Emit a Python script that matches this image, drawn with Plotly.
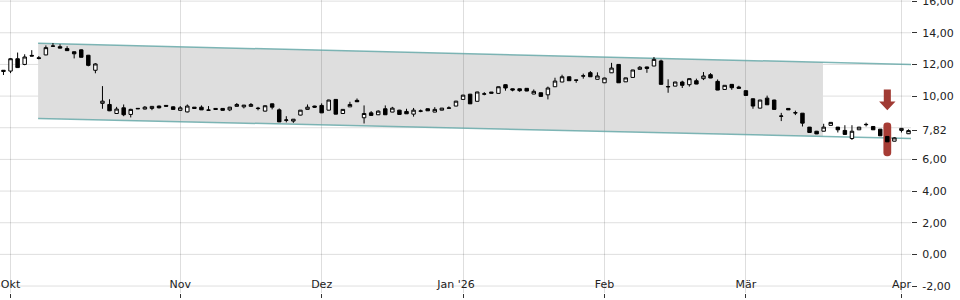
import plotly.graph_objects as go

# ---------------- data ----------------
opens = [11.63, 11.58, 12.36, 12.00, 12.57, 12.42, 12.60, 13.15, 13.12, 13.00,
         12.80, 12.92, 12.58, 11.63, 9.54, 9.47, 8.90, 9.26, 8.84, 9.19,
         9.18, 9.22, 9.37, 9.41, 9.32, 9.10, 9.00, 9.30, 9.30, 9.12,
         9.22, 9.22, 9.13, 9.35, 9.32, 9.35, 9.21, 9.05, 9.51, 9.13,
         8.47, 8.42, 8.80, 9.16, 9.37, 9.41, 9.11, 9.79, 8.90, 9.32,
         9.73, 8.63, 8.94, 8.82, 9.20, 8.99, 9.11, 9.03, 8.86, 9.04,
         9.20, 8.99, 9.11, 9.23, 9.37, 9.79, 10.12, 9.67, 10.12, 10.17,
         10.17, 10.72, 10.46, 10.46, 10.49, 10.13, 10.21, 10.08, 10.59, 10.89,
         11.22, 11.02, 11.26, 11.48, 11.06, 10.84, 11.47, 12.00, 10.90, 11.18,
         11.69, 11.84, 11.90, 12.22, 10.58, 10.63, 10.89, 10.72, 10.97, 11.10,
         11.35, 10.93, 10.42, 10.74, 10.57, 10.34, 9.83, 9.24, 9.87, 9.75,
         8.72, 9.22, 8.93, 8.92, 8.04, 7.78, 7.78, 8.15, 8.04, 7.83,
         7.32, 7.87, 8.19, 8.08, 7.91, 7.45, 7.15, 7.83, 7.62]
highs = [11.64, 12.40, 12.75, 12.64, 12.90, 12.53, 13.20, 13.35, 13.27, 13.15,
         12.82, 12.95, 12.60, 12.08, 10.63, 9.80, 9.32, 9.47, 9.20, 9.21,
         9.37, 9.37, 9.40, 9.43, 9.35, 9.37, 9.47, 9.31, 9.41, 9.37,
         9.24, 9.24, 9.32, 9.56, 9.44, 9.56, 9.32, 9.41, 9.53, 9.22,
         8.73, 8.55, 9.12, 9.47, 9.39, 9.54, 9.77, 9.80, 9.17, 9.64,
         9.85, 9.41, 9.05, 9.10, 9.41, 9.32, 9.13, 9.20, 9.25, 9.15,
         9.22, 9.30, 9.25, 9.35, 9.70, 10.08, 10.14, 10.27, 10.25, 10.26,
         10.60, 10.74, 10.48, 10.48, 10.51, 10.42, 10.22, 10.60, 11.16, 11.35,
         11.24, 11.03, 11.42, 11.58, 11.50, 11.16, 12.10, 12.02, 11.16, 11.66,
         11.90, 11.86, 12.47, 12.30, 11.06, 10.90, 10.97, 11.11, 11.10, 11.52,
         11.45, 11.05, 10.69, 10.75, 10.65, 10.36, 9.85, 9.76, 10.03, 9.77,
         8.94, 9.23, 9.08, 8.93, 8.05, 7.80, 8.25, 8.35, 8.05, 8.16,
         8.16, 8.05, 8.32, 8.09, 7.92, 7.46, 7.40, 7.97, 7.90]
lows = [11.33, 11.45, 11.78, 11.95, 12.52, 12.32, 12.58, 13.10, 13.02, 12.85,
        12.38, 12.44, 11.88, 11.44, 9.20, 9.05, 8.88, 8.73, 8.65, 9.18,
        9.16, 9.11, 9.22, 9.33, 9.14, 9.08, 8.97, 9.21, 9.12, 9.10,
        9.15, 9.09, 9.05, 9.34, 9.22, 9.34, 9.10, 9.03, 9.16, 8.36,
        8.34, 8.31, 8.78, 9.15, 9.25, 8.93, 9.10, 8.85, 8.89, 9.31,
        9.63, 8.27, 8.77, 8.80, 8.81, 8.98, 8.83, 8.87, 8.70, 8.98,
        9.06, 8.98, 9.10, 9.22, 9.36, 9.78, 9.50, 9.66, 10.05, 10.16,
        10.16, 10.34, 10.30, 10.27, 10.31, 10.12, 9.97, 9.79, 10.58, 10.88,
        10.96, 10.84, 11.10, 11.21, 11.05, 10.83, 11.46, 10.83, 10.89, 11.17,
        11.68, 11.47, 11.89, 10.73, 10.21, 10.62, 10.51, 10.60, 10.75, 11.01,
        11.13, 10.37, 10.41, 10.40, 10.48, 10.03, 9.20, 9.22, 9.44, 9.15,
        8.42, 9.12, 8.80, 8.08, 7.69, 7.60, 7.77, 8.14, 7.70, 7.57,
        7.23, 7.86, 8.08, 7.86, 7.48, 7.10, 7.14, 7.70, 7.64]
closes = [11.56, 12.36, 11.80, 12.47, 12.53, 12.38, 13.06, 13.16, 13.03, 12.87,
          12.67, 12.45, 11.94, 12.03, 9.68, 9.07, 9.18, 8.82, 9.16, 9.22,
          9.30, 9.35, 9.26, 9.36, 9.16, 9.26, 9.37, 9.22, 9.13, 9.11,
          9.16, 9.10, 9.30, 9.47, 9.43, 9.47, 9.23, 9.39, 9.30, 8.37,
          8.49, 8.54, 9.11, 9.30, 9.30, 8.94, 9.75, 8.86, 9.16, 9.47,
          9.64, 8.90, 8.78, 9.05, 8.82, 9.24, 8.84, 8.88, 9.11, 9.06,
          9.07, 9.16, 9.24, 9.25, 9.68, 10.06, 9.51, 10.26, 10.14, 10.25,
          10.59, 10.51, 10.38, 10.34, 10.32, 10.30, 9.98, 10.51, 10.95, 11.22,
          10.97, 11.00, 11.28, 11.22, 11.27, 11.14, 11.77, 10.84, 11.15, 11.65,
          11.82, 11.75, 12.32, 10.74, 10.60, 10.89, 10.68, 11.10, 10.76, 11.27,
          11.14, 10.38, 10.68, 10.53, 10.49, 10.04, 9.37, 9.75, 9.45, 9.16,
          8.74, 9.13, 8.95, 8.29, 7.70, 7.61, 8.04, 8.34, 7.87, 7.58,
          7.78, 8.04, 8.21, 7.87, 7.49, 7.11, 7.36, 7.96, 7.82]

month_labels = ["Okt", "Nov", "Dez", "Jan '26\u00a0\u00a0\u00a0\u00a0", "Feb", "Mär", "Apr"]
month_start_idx = [1, 25, 45, 65, 85, 105, 127]

grid_values = [-2, 0, 2, 4, 6, 8, 10, 12, 14, 16]
ytick_values = [-2, 0, 2, 4, 6, 7.82, 10, 12, 14, 16]
last_price = 7.82

# trend channel (start / end)
channel_x = [4.9, 128.35]
channel_top = [13.33, 12.00]
channel_bottom = [8.59, 7.32]
channel_fill_end = 115.9

# highlight
highlight_idx = 125
highlight_range = [6.2, 8.33]
arrow_top, arrow_neck, arrow_tip = 10.42, 9.66, 9.10

# ---------------- figure ----------------
n = len(closes)
xs = list(range(n))

fig = go.Figure()

fig.add_trace(go.Candlestick(
    x=xs, open=opens, high=highs, low=lows, close=closes,
    increasing=dict(line=dict(color="black", width=1), fillcolor="white"),
    decreasing=dict(line=dict(color="black", width=1), fillcolor="black"),
    whiskerwidth=0, showlegend=False, hoverinfo="skip",
))


def interp(xv, ys):
    t = (xv - channel_x[0]) / (channel_x[1] - channel_x[0])
    return ys[0] + (ys[1] - ys[0]) * t


# channel fill
x0, x1 = channel_x[0], channel_fill_end
path = (f"M {x0},{interp(x0, channel_top)} L {x1},{interp(x1, channel_top)} "
        f"L {x1},{interp(x1, channel_bottom)} L {x0},{interp(x0, channel_bottom)} Z")
fig.add_shape(type="path", path=path, xref="x", yref="y", layer="below",
              fillcolor="#dedede", line=dict(width=0))

# horizontal grid lines
for g in grid_values:
    fig.add_shape(type="line", xref="paper", x0=0, x1=1, yref="y", y0=g, y1=g,
                  layer="below", line=dict(color="rgba(0,0,0,0.13)", width=1))

# channel lines
for ys in (channel_top, channel_bottom):
    fig.add_shape(type="line", xref="x", yref="y",
                  x0=channel_x[0], x1=channel_x[1], y0=ys[0], y1=ys[1],
                  layer="between", line=dict(color="rgba(95,165,165,0.8)", width=1.5))

# red highlight bar (rounded)
hw = 0.55
ry = 0.22
rx = 0.5
b, t = highlight_range
cx = highlight_idx
bar_path = (f"M {cx-hw},{b+ry} L {cx-hw},{t-ry} Q {cx-hw},{t} {cx-hw+rx},{t} "
            f"L {cx+hw-rx},{t} Q {cx+hw},{t} {cx+hw},{t-ry} L {cx+hw},{b+ry} "
            f"Q {cx+hw},{b} {cx+hw-rx},{b} L {cx-hw+rx},{b} Q {cx-hw},{b} {cx-hw},{b+ry} Z")
fig.add_shape(type="path", path=bar_path, xref="x", yref="y", layer="between",
              fillcolor="#a63c35", line=dict(width=0))

# arrow
sw = 0.5
hwid = 1.16
arrow_path = (f"M {cx-sw},{arrow_top} L {cx+sw},{arrow_top} L {cx+sw},{arrow_neck} "
              f"L {cx+hwid},{arrow_neck} L {cx},{arrow_tip} L {cx-hwid},{arrow_neck} "
              f"L {cx-sw},{arrow_neck} Z")
fig.add_shape(type="path", path=arrow_path, xref="x", yref="y", layer="above",
              fillcolor="#a03a33", line=dict(width=0))

font = "DejaVu Sans"
fig.update_layout(
    width=960, height=300,
    margin=dict(l=0, r=49, t=0, b=7, autoexpand=False),
    paper_bgcolor="white", plot_bgcolor="white",
    font=dict(family=font, size=11, color="#222"),
    showlegend=False,
    xaxis=dict(
        range=[-0.49, 128.35], automargin=False,
        rangeslider=dict(visible=False),
        tickmode="array", tickvals=month_start_idx, ticktext=month_labels,
        ticks="outside", ticklen=4, tickcolor="#333",
        ticklabelposition="inside", ticklabeloverflow="allow",
        showgrid=True, gridcolor="rgba(0,0,0,0.13)", gridwidth=1,
        zeroline=False, showline=False,
        tickfont=dict(family=font, size=11, color="#222"),
    ),
    yaxis=dict(
        side="right", automargin=False,
        range=[-2.44, 16.07],
        tickmode="array", tickvals=ytick_values,
        ticktext=[f"{v:.2f}".replace(".", ",") for v in ytick_values],
        ticks="outside", ticklen=5, tickcolor="#333",
        ticklabelstandoff=3, ticklabeloverflow="allow",
        showgrid=False, zeroline=False, showline=False,
        tickfont=dict(family=font, size=11, color="#222"),
    ),
)

fig.write_html("out.html")
